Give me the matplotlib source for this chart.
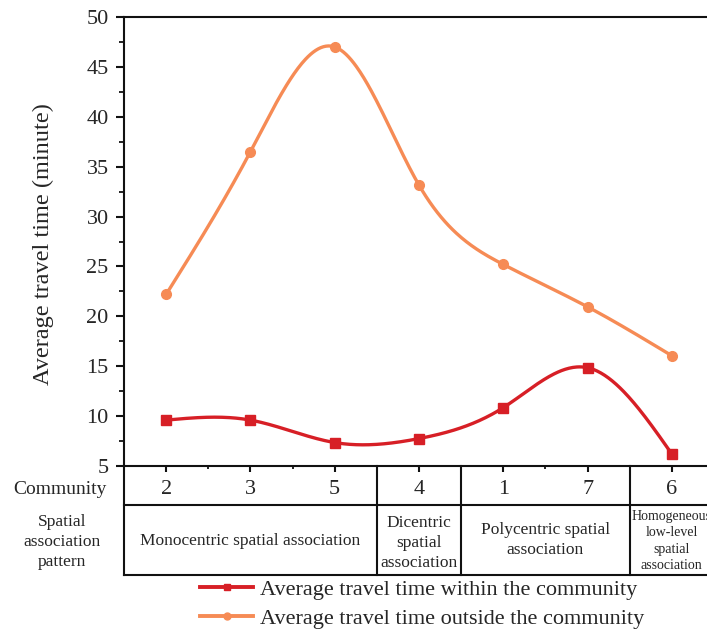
import numpy as np
import matplotlib
matplotlib.use("Agg")
import matplotlib.pyplot as plt
from matplotlib.lines import Line2D
from matplotlib.transforms import blended_transform_factory

plt.rcParams['font.family'] = ['Liberation Serif', 'DejaVu Serif']

communities = ['2', '3', '5', '4', '1', '7', '6']
within = [9.6, 9.6, 7.35, 7.75, 10.85, 14.85, 6.2]
outside = [22.2, 36.5, 47.0, 33.15, 25.2, 20.95, 16.05]
patterns = ['Monocentric spatial association',
            'Dicentric\nspatial\nassociation',
            'Polycentric spatial\nassociation',
            'Homogeneous\nlow-level\nspatial\nassociation']
pattern_spans = [(0.5, 3.5), (3.5, 4.5), (4.5, 6.5), (6.5, 7.5)]
legend_labels = ['Average travel time within the community',
                 'Average travel time outside the community']

RED = '#d71f26'
ORANGE = '#f68b55'
TXT = '#262626'


def natural_spline(x, y, n=400):
    x = np.asarray(x, float); y = np.asarray(y, float)
    k = len(x)
    h = np.diff(x)
    A = np.zeros((k, k)); b = np.zeros(k)
    A[0, 0] = 1; A[-1, -1] = 1
    for i in range(1, k - 1):
        A[i, i - 1] = h[i - 1]
        A[i, i] = 2 * (h[i - 1] + h[i])
        A[i, i + 1] = h[i]
        b[i] = 3 * ((y[i + 1] - y[i]) / h[i] - (y[i] - y[i - 1]) / h[i - 1])
    c = np.linalg.solve(A, b)
    xs = np.linspace(x[0], x[-1], n)
    ys = np.empty_like(xs)
    for j, xv in enumerate(xs):
        i = min(np.searchsorted(x, xv, side='right') - 1, k - 2)
        dx = xv - x[i]
        bi = (y[i + 1] - y[i]) / h[i] - h[i] * (2 * c[i] + c[i + 1]) / 3
        di = (c[i + 1] - c[i]) / (3 * h[i])
        ys[j] = y[i] + bi * dx + c[i] * dx ** 2 + di * dx ** 3
    return xs, ys


W, H = 707, 635
fig = plt.figure(figsize=(W / 100, H / 100), dpi=100)
x0, x1 = 124, 714
y0, y1 = 466, 17
ax = fig.add_axes([x0 / W, 1 - y0 / H, (x1 - x0) / W, (y0 - y1) / H])

xpos = np.arange(1, len(communities) + 1)
for vals, col, mk in [(within, RED, 's'), (outside, ORANGE, 'o')]:
    xs, ys = natural_spline(xpos, vals)
    ax.plot(xs, ys, color=col, lw=2.4, zorder=3)
    ax.plot(xpos, vals, ls='none', marker=mk, ms=7, color=col, zorder=4)

ax.set_xlim(0.5, 7.5)
ax.set_ylim(5, 50)
ax.set_yticks(np.arange(5, 51, 5))
ax.set_yticks(np.arange(7.5, 50, 2.5), minor=True)
ax.set_xticks(xpos)
ax.set_xticklabels([])
ax.set_xticks([1.5, 2.5, 5.5], minor=True)
for s in ax.spines.values():
    s.set_linewidth(1.5)
    s.set_color('#111111')
ax.tick_params(axis='y', which='major', length=6, width=1.5, pad=5,
               labelsize=16, labelcolor=TXT, color='#111111')
ax.tick_params(axis='y', which='minor', length=3.5, width=1.3, color='#111111')
ax.tick_params(axis='x', which='major', length=4, width=1.5, color='#111111')
ax.tick_params(axis='x', which='minor', length=2.5, width=1.3, color='#111111')

fig.text(43 / W, 1 - 244 / H, 'Average travel time (minute)', rotation=90,
         ha='center', va='center', fontsize=17.5, color=TXT)

# table beneath the axis
tr = blended_transform_factory(ax.transData, fig.transFigure)
yb_axis = 1 - y0 / H
y_row = 1 - 505 / H
y_bot = 1 - 575 / H
lkw = dict(color='#111111', lw=1.5, clip_on=False, transform=tr, zorder=5)
ax.add_line(Line2D([0.5, 7.5], [y_row, y_row], **lkw))
ax.add_line(Line2D([0.5, 7.5], [y_bot, y_bot], **lkw))
for xv in [0.5, 3.5, 4.5, 6.5, 7.5]:
    ax.add_line(Line2D([xv, xv], [yb_axis, y_bot], **lkw))

for xv, lab in zip(xpos, communities):
    ax.text(xv, 1 - 490 / H, lab, transform=tr, ha='center', va='center',
            fontsize=16, color=TXT, clip_on=False)

fig.text(60 / W, 1 - 490 / H, 'Community', ha='center', va='center',
         fontsize=14, color=TXT)
fig.text(62 / W, 1 - 542 / H, 'Spatial\nassociation\npattern', ha='center',
         va='center', fontsize=12.5, color=TXT, linespacing=1.35)

sizes = [12.5, 12.5, 12.5, 10]
ycent = [541, 543, 540, 541]
lsp = [1.2, 1.35, 1.3, 1.32]
for (a, b), lab, fs, yc, ls in zip(pattern_spans, patterns, sizes, ycent, lsp):
    ax.text((a + b) / 2, 1 - yc / H, lab, transform=tr, ha='center',
            va='center', fontsize=fs, color=TXT, linespacing=ls,
            clip_on=False)

handles = [Line2D([], [], color=RED, lw=2.8, marker='s', ms=5),
           Line2D([], [], color=ORANGE, lw=2.8, marker='o', ms=5)]
fig.legend(handles, legend_labels, loc='upper left',
           bbox_to_anchor=(200 / W, 1 - 579 / H), frameon=False,
           fontsize=16, handlelength=2.4, handletextpad=0.3,
           labelspacing=0.4, borderpad=0, borderaxespad=0,
           labelcolor=TXT)

fig.savefig('out.png', dpi=100)
